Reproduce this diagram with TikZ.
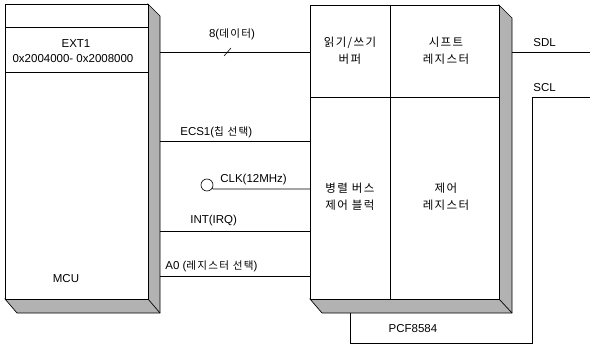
\documentclass[tikz,border=0pt]{standalone}
\usepackage{fontspec}
\setmainfont{Liberation Sans}
\newfontfamily\kr[LetterSpace=12,Scale=0.92]{Noto Sans CJK KR}
\begin{document}
\begin{tikzpicture}[x=1pt,y=-1pt,
  line width=0.7pt,
  shade3d/.style={fill=black!30, draw=black, line width=0.7pt},
  box/.style={draw, line width=0.8pt, inner sep=0pt, anchor=north west},
  sig/.style={line width=0.6pt},
  lbl/.style={font=\fontsize{11.5}{13}\selectfont, inner sep=1pt},
  klbl/.style={font=\kr\fontsize{12.5}{17}\selectfont, align=center, inner sep=0pt}]
\useasboundingbox (0,0) rectangle (590,345);
% MCU
\fill[shade3d] (148,4) -- (160,16) -- (160,313) -- (17,313) -- (5,299) -- (148,299) -- cycle;
\draw (148,299) -- (160,313);
\node[box, fill=white, minimum width=143pt, minimum height=295pt] (mcu) at (5,4) {};
\draw[sig] (5,27) -- (148,27);
\draw[sig] (5,72) -- (148,72);
\node[lbl] (ext) at (76,44) {EXT1};
\node[lbl] (addr) at (73,59) {0x2004000- 0x2008000};
\node[lbl] (mcul) at (66,279) {MCU};
\coordinate (me) at (160,0);
% PCF
\fill[shade3d] (499,5) -- (512,18) -- (512,313) -- (322,313) -- (310,299) -- (499,299) -- cycle;
\draw (499,299) -- (512,313);
\node[box, fill=white, minimum width=189pt, minimum height=294pt] (pcf) at (310,5) {};
\draw[sig] (390,5) -- (390,299);
\draw[sig] (310,97) -- (499,97);
\node[klbl] (buf) at (350,51) {읽기/쓰기\\버퍼};
\node[klbl] (shift) at (446,51) {시프트\\레지스터};
\node[klbl] (par) at (350,197) {병렬 버스\\제어 블럭};
\node[klbl] (ctl) at (446,197) {제어\\레지스터};
% signals
\draw[sig] (me |- 0,52) -- (pcf.west |- 0,52);
\draw[sig] (224,56) -- (231,48);
\node[lbl] (d8) at (232,34) {8({\kr 데이터})};
\draw[sig] (me |- 0,141) -- (pcf.west |- 0,141);
\node[lbl, anchor=west] (ecs) at (179,132) {ECS1({\kr 칩 선택})};
\node[draw, circle, minimum size=12pt, inner sep=0pt, line width=0.6pt] (clkc) at (207,185) {};
\draw[sig] (clkc.-30) -- (213,189) -- (pcf.west |- 0,189);
\node[lbl, anchor=west] (clk) at (219,180) {CLK(12MHz)};
\draw[sig] (me |- 0,231) -- (pcf.west |- 0,231);
\node[lbl, anchor=west] (int) at (189,221) {INT(IRQ)};
\draw[sig] (me |- 0,276) -- (pcf.west |- 0,276);
\node[lbl, anchor=west] (a0) at (164,266) {A0 ({\kr 레지스터 선택})};
% SDL / SCL
\draw[sig] (512,52) -- (590,52);
\node[lbl, anchor=west] (sdl) at (532,43) {SDL};
\coordinate (sclr) at (590,97);
\draw[sig] (sclr) -- (532,97) -- (532,343) -- (350,343) -- (350,313);
\node[lbl, anchor=west] (scl) at (532,88) {SCL};
\node[lbl] (pcfl) at (413,329) {PCF8584};
\end{tikzpicture}
\end{document}
